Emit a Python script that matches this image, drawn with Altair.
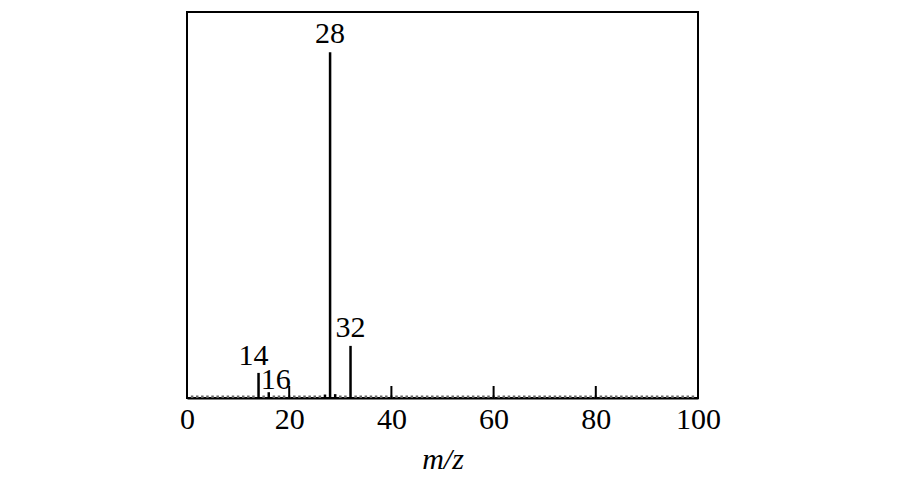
import altair as alt
import pandas as pd

# m/z values (1..99) and relative intensities
mz = list(range(1, 100))
intensity = [0.65] * 99
peaks = {14: 6.5, 16: 1.5, 27: 0.9, 28: 89.6, 29: 1.0, 32: 13.5}
for k, v in peaks.items():
    intensity[k - 1] = v

label_mz = [28, 32, 14, 16]
label_int = [89.6, 13.5, 6.5, 1.5]
label_text = ["28", "32", "14", "16"]
label_dx = [0, 0, -5, 7]
label_dy = [-9, -9, -8, -3]

tick_vals = [20, 40, 60, 80]
axis_vals = [0, 20, 40, 60, 80, 100]

spec = pd.DataFrame({"mz": mz, "intensity": intensity})
ticks = pd.DataFrame({"t": tick_vals})

FONT = "Liberation Serif"
FS = 30
xscale = alt.Scale(domain=[0, 100], nice=False, zero=False)
yscale = alt.Scale(domain=[0, 100], nice=False)

bars = alt.Chart(spec).mark_rule(strokeWidth=2.5).encode(
    x=alt.X("mz:Q", scale=xscale,
            axis=alt.Axis(title="m/z", values=axis_vals, ticks=False, grid=False,
                          labelFont=FONT, labelFontSize=FS, labelColor="black",
                          labelPadding=6, domainColor="black", domainWidth=2,
                          titleFont=FONT, titleFontSize=FS, titleFontStyle="italic",
                          titleFontWeight="normal", titleColor="black", titlePadding=10,
                          labelFlush=False)),
    y=alt.Y("intensity:Q", scale=yscale, axis=None),
    y2=alt.datum(0),
    color=alt.condition("datum.intensity < 0.8", alt.value("#666666"), alt.value("black")),
)

tick_marks = alt.Chart(ticks).mark_rule(color="black", strokeWidth=2).encode(
    x=alt.X("t:Q", scale=xscale),
    y=alt.value(374),
    y2=alt.value(386),
)

layers = [bars, tick_marks]
for m, v, t, dx, dy in zip(label_mz, label_int, label_text, label_dx, label_dy):
    df = pd.DataFrame({"mz": [m], "intensity": [v], "text": [t]})
    layers.append(
        alt.Chart(df).mark_text(font=FONT, fontSize=FS, color="black",
                                baseline="alphabetic", align="center", dx=dx, dy=dy).encode(
            x=alt.X("mz:Q", scale=xscale),
            y=alt.Y("intensity:Q", scale=yscale),
            text="text:N",
        )
    )

chart = alt.layer(*layers).properties(
    width=511, height=386,
    background="white",
    autosize=alt.AutoSizeParams(type="none"),
    padding={"left": 179, "top": 4, "right": 190, "bottom": 95},
).configure_view(stroke="black", strokeWidth=2)

chart.save("out.html", embed_options={"renderer": "svg", "actions": False})
